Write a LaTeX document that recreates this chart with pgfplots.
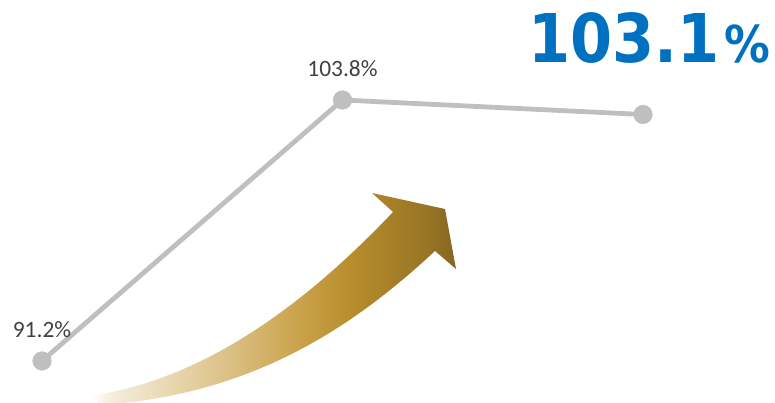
\documentclass[border=0pt]{standalone}
\usepackage{pgfplots}
\pgfplotsset{compat=1.18}
\usepackage{fontspec}
\setmainfont{Carlito}
\newfontfamily\bigfont{DejaVu Sans Condensed}
\definecolor{linegray}{HTML}{BFBFBF}
\definecolor{labgray}{HTML}{404040}
\definecolor{bigblue}{HTML}{0070C0}
\definecolor{g0}{HTML}{FFFFFF}
\definecolor{g1}{HTML}{F5EEDD}
\definecolor{g2}{HTML}{E0C893}
\definecolor{g3}{HTML}{C9A24A}
\definecolor{g4}{HTML}{B88D2C}
\definecolor{g5}{HTML}{967425}
\definecolor{g6}{HTML}{85661F}
% bbox of arrow path: x 90..456 mapped onto 25bp..75bp of the 100bp shading
\pgfdeclarehorizontalshading{goldgrad}{100bp}{
  color(0bp)=(g0);
  color(25bp)=(g0);
  color(27.7bp)=(g1);
  color(41.4bp)=(g2);
  color(53.7bp)=(g3);
  color(60.5bp)=(g4);
  color(71.4bp)=(g5);
  color(75bp)=(g6);
  color(100bp)=(g6)}
\begin{document}
\begin{tikzpicture}
\begin{axis}[
  scale only axis,
  width=775bp, height=402bp,
  xmin=-0.13977, xmax=2.43927,
  ymin=89.218, ymax=108.628,
  hide axis,
  clip=false,
  point meta=explicit symbolic,
  nodes near coords={\fontsize{23.5}{26}\selectfont\pgfplotspointmeta},
  every node near coord/.append style={text=labgray, anchor=base, yshift=23bp},
]
\addplot[color=linegray, line width=4.8bp, mark=*, mark size=9.3bp, mark options={fill=linegray, draw=linegray, line width=0.5bp}]
  coordinates {(0,91.2) [91.2\%] (1,103.8) [103.8\%] (2,103.1) []};
\coordinate (O) at (rel axis cs:0,1);
\end{axis}
\begin{scope}[shift={(O)}, x=1bp, y=-1bp]
  \clip (0,0) rectangle (775,402);
  \shade[shading=goldgrad]
    (393,212) -- (372,193) -- (445,209) -- (456,269) -- (435,251)
    .. controls (350,330) and (250,395) .. (100,405)
    -- (90,396)
    .. controls (200,380) and (300,310) .. (393,212) -- cycle;
  \node[anchor=base west, inner sep=0pt, text=bigblue, font=\bigfont\bfseries\fontsize{67.5}{70}\selectfont] at (528,62) {103.1\hspace{5bp}\fontsize{51}{54}\selectfont\%};
\end{scope}
\end{tikzpicture}
\end{document}
